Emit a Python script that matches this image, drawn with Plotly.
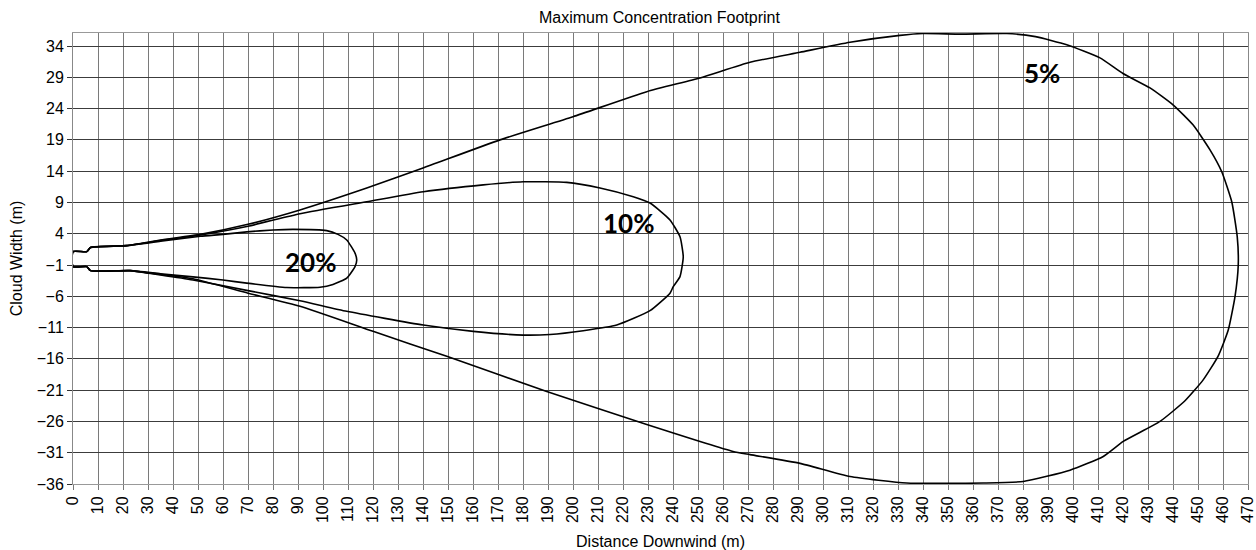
import plotly.graph_objects as go

# 5% contour: upper edge out to the tip, then lower edge back to the source
x_5pct = [0, 5.5, 7, 21.5, 35, 51, 70, 90.8, 117.5, 140, 170.8, 200, 229.5, 250.8,
          270.8, 290.8, 310.8, 330.8, 340, 355, 373.5, 385, 397.5, 410.8, 420, 430.8,
          440, 448, 454.8, 459.5, 463.5, 465.7, 466.1,
          464.8, 462.1, 458, 452, 444.8, 434.8, 420.1, 412.1, 398.8, 380.1, 364.1,
          350, 333.5, 310.8, 290.8, 270.8, 264, 229.5, 189.5, 149.5, 120, 90.8, 70,
          48, 35, 22.8, 7, 5.5, 0, 0]
y_5pct = [1.14, 1.14, 1.8, 2.1, 3.0, 3.9, 5.5, 7.8, 11.3, 14.5, 19.0, 22.7, 26.7, 28.9,
          31.4, 33.0, 34.6, 35.7, 36.0, 35.9, 36.0, 35.5, 34.2, 32.1, 29.6, 27.3,
          24.6, 21.4, 17.4, 13.9, 9.1, 3.5, -1.0,
          -6.05, -11.4, -15.6, -19.4, -22.7, -26.0, -29.2, -31.6, -33.8, -35.6, -35.85,
          -35.9, -35.85, -34.8, -32.7, -31.3, -30.8, -26.5, -21.2, -15.6, -11.6, -7.6, -5.5,
          -3.2, -2.5, -1.9, -1.9, -1.26, -1.26, 1.14]

# 10% contour
x_10pct = [0, 5.5, 7, 21.5, 35, 51, 70, 90.8, 117.5, 140.1, 164.1, 180.1, 197.5, 210.8,
           224.1, 230.8, 238.8, 242.8, 244.1,
           242.8, 240.1, 238.8, 230.8, 217.5, 204.1, 190.8, 180.1, 160.1, 140.1, 109.5,
           90.8, 70, 48, 35, 22.8, 7, 5.5, 0, 0]
y_10pct = [1.14, 1.14, 1.8, 2.1, 2.9, 3.8, 5.2, 7.2, 9.1, 10.7, 11.8, 12.3, 12.2, 11.3,
           9.9, 8.9, 6.2, 3.5, 0.3,
           -2.85, -4.45, -5.5, -8.3, -10.6, -11.5, -12.1, -12.2, -11.6, -10.6, -8.4,
           -6.7, -5.1, -3.4, -2.6, -1.9, -1.9, -1.26, -1.26, 1.14]

# 20% contour
x_20pct = [0, 5.5, 7, 21.5, 35, 51, 60, 69.5, 80, 88.1, 101.5, 106, 109.5, 112.8, 113.5,
           112.8, 109.5, 104, 98.8, 85.5, 69.5, 60, 48, 35, 22.8, 7, 5.5, 0, 0]
y_20pct = [1.14, 1.14, 1.8, 2.1, 2.8, 3.6, 3.9, 4.3, 4.6, 4.7, 4.5, 3.9, 3.0, 0.9, -0.2,
           -1.25, -3.1, -4.1, -4.55, -4.6, -3.9, -3.4, -2.9, -2.4, -1.9, -1.9, -1.26, -1.26, 1.14]

labels = ["5%", "10%", "20%"]
label_x = [387.6, 222, 94.8]
label_y = [29.7, 5.7, -0.5]

x_ticks = list(range(0, 471, 10))
y_ticks = list(range(-36, 35, 5))

SANS = "Liberation Sans, Arial, sans-serif"
AXIS_FONT = dict(family=SANS, size=16, color="black")
TITLE_FONT = dict(family=SANS, size=16, color="black")

fig = go.Figure()
for xs, ys in [(x_5pct, y_5pct), (x_10pct, y_10pct), (x_20pct, y_20pct)]:
    fig.add_trace(go.Scatter(
        x=xs, y=ys, mode="lines",
        line=dict(color="black", width=1.6, shape="spline", smoothing=0.5),
        showlegend=False, hoverinfo="skip"
    ))

for text, lx, ly in zip(labels, label_x, label_y):
    fig.add_annotation(
        x=lx, y=ly, text=f"<b>{text}</b>", showarrow=False,
        font=dict(family="Lato, 'Open Sans', sans-serif", size=26, color="black")
    )

fig.update_layout(
    width=1256, height=550,
    paper_bgcolor="white",
    plot_bgcolor="white",
    margin=dict(l=73, r=8, t=33, b=66),
    title=dict(
        text="Maximum Concentration Footprint",
        x=0.525, xanchor="center", y=0.969, yanchor="middle",
        font=TITLE_FONT
    ),
    xaxis=dict(
        range=[0, 470], tickvals=x_ticks, tickangle=-90,
        tickfont=AXIS_FONT, automargin=False, ticklabeloverflow="allow",
        ticks="outside", ticklen=5, tickcolor="#777",
        showgrid=True, gridcolor="#7a7a7a", gridwidth=1,
        showline=True, linecolor="#999", linewidth=1, mirror=True,
        zeroline=False,
        title=dict(text="Distance Downwind (m)", standoff=18, font=TITLE_FONT),
    ),
    yaxis=dict(
        range=[-36, 36.08], tickvals=y_ticks,
        tickfont=AXIS_FONT, automargin=False, ticklabeloverflow="allow",
        ticks="outside", ticklen=5, tickcolor="#333",
        showgrid=True, gridcolor="#3c3c3c", gridwidth=1,
        showline=True, linecolor="#888", linewidth=1, mirror=True,
        zeroline=False,
        title=dict(text="Cloud Width (m)", standoff=10, font=TITLE_FONT),
    ),
)

# the page body has an 8px default margin; drop it so the chart sits at the window origin
fig.write_html("out.html", config={"displayModeBar": False},
               post_script="document.body.style.margin = '0';")
